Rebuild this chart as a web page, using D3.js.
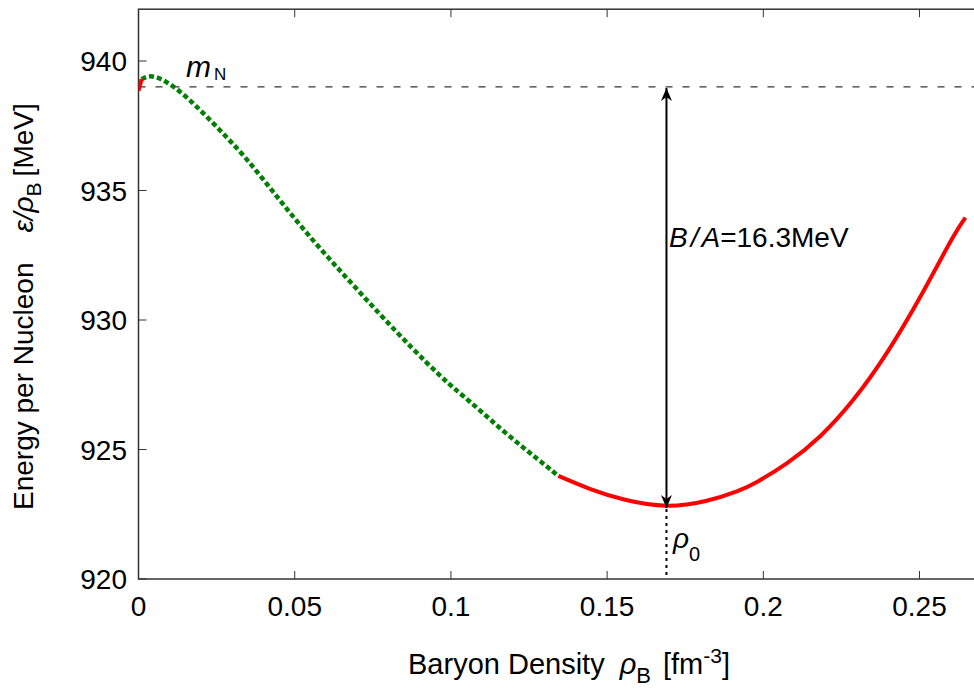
<!DOCTYPE html>
<html>
<head>
<meta charset="utf-8">
<script src="https://cdn.jsdelivr.net/npm/d3@7"></script>
<style>
  html, body { margin: 0; padding: 0; background: #fff; }
  svg { display: block; }
  text { font-family: "Liberation Sans", Arial, sans-serif; fill: #000; }
</style>
</head>
<body>
<svg id="chart" width="974" height="689"></svg>
<script>
// ---- data ----
const xTicks = [0, 0.05, 0.1, 0.15, 0.2, 0.25];
const xTickLabels = ["0", "0.05", "0.1", "0.15", "0.2", "0.25"];
const yTicks = [920, 925, 930, 935, 940];
const yTickLabels = ["920", "925", "930", "935", "940"];

// unstable low-density piece (red)
const rhoLow = [0, 0.001];
const eLow = [938.85, 939.3];
// spinodal region (green dotted)
const rhoMid = [0.001, 0.0046, 0.0131, 0.0238, 0.0345, 0.0452, 0.0559, 0.0666, 0.0772, 0.0879, 0.0965, 0.1018, 0.1071, 0.1178, 0.1285, 0.1344];
const eMid = [939.3, 939.52, 938.91, 937.62, 936.27, 934.62, 933.05, 931.63, 930.22, 928.87, 927.84, 927.28, 926.75, 925.59, 924.56, 923.98];
// stable branch (red)
const rhoHigh = [0.1344, 0.1446, 0.1552, 0.1691, 0.1819, 0.1926, 0.1969, 0.2076, 0.2183, 0.2289, 0.2396, 0.2503, 0.2610, 0.2647];
const eHigh = [923.98, 923.45, 923.04, 922.74, 922.98, 923.42, 923.66, 924.43, 925.46, 926.87, 928.68, 930.86, 933.31, 933.95];

const mN = 939.0;
const bindingEnergy = 16.3;
const rho0 = 0.169;
const xDomain = [0, 0.27];
const yDomain = [920, 942];

// ---- layout ----
const svg = d3.select("#chart");
const x = d3.scaleLinear().domain(xDomain).range([138.5, 982]);
const y = d3.scaleLinear().domain(yDomain).range([579, 9.2]);
const x0 = x.range()[0], x1 = x.range()[1], yb = y.range()[0], yt = y.range()[1];

const defs = svg.append("defs");
defs.append("clipPath").attr("id", "plotclip").append("rect")
  .attr("x", x0).attr("y", yt).attr("width", x1 - x0).attr("height", yb - yt);
defs.append("marker").attr("id", "ahead")
  .attr("viewBox", "-14 -7 16 14").attr("refX", 0).attr("refY", 0)
  .attr("markerWidth", 16).attr("markerHeight", 14).attr("markerUnits", "userSpaceOnUse")
  .attr("orient", "auto-start-reverse")
  .append("path").attr("d", "M0,0 L-13,-5.5 L-9,0 L-13,5.5 Z").attr("fill", "#000");

// frame
svg.append("rect").attr("x", x0).attr("y", yt).attr("width", x1 - x0).attr("height", yb - yt)
  .attr("fill", "none").attr("stroke", "#333").attr("stroke-width", 1.5);

// ticks (inward, mirrored)
const tlen = 8;
const tickG = svg.append("g").attr("stroke", "#333").attr("stroke-width", 1);
xTicks.forEach(t => {
  tickG.append("line").attr("x1", x(t)).attr("x2", x(t)).attr("y1", yb).attr("y2", yb - tlen);
  tickG.append("line").attr("x1", x(t)).attr("x2", x(t)).attr("y1", yt).attr("y2", yt + tlen);
});
yTicks.forEach(t => {
  tickG.append("line").attr("x1", x0).attr("x2", x0 + tlen).attr("y1", y(t)).attr("y2", y(t));
  tickG.append("line").attr("x1", x1).attr("x2", x1 - tlen).attr("y1", y(t)).attr("y2", y(t));
});

// tick labels
xTicks.forEach((t, i) => {
  svg.append("text").attr("x", x(t)).attr("y", 616).attr("text-anchor", "middle")
    .attr("font-size", 28).text(xTickLabels[i]);
});
yTicks.forEach((t, i) => {
  svg.append("text").attr("x", 127).attr("y", y(t) + 10).attr("text-anchor", "end")
    .attr("font-size", 28).text(yTickLabels[i]);
});

const plot = svg.append("g").attr("clip-path", "url(#plotclip)");

// m_N dashed line
plot.append("line").attr("x1", x0).attr("x2", x1).attr("y1", y(mN)).attr("y2", y(mN))
  .attr("stroke", "#000").attr("stroke-width", 1).attr("stroke-dasharray", "7,10");

// dotted line from minimum to axis
plot.append("line").attr("x1", x(rho0)).attr("x2", x(rho0))
  .attr("y1", y(mN - bindingEnergy)).attr("y2", yb)
  .attr("stroke", "#000").attr("stroke-width", 2).attr("stroke-dasharray", "3,4");

// curves
const line = d3.line().x(d => x(d[0])).y(d => y(d[1])).curve(d3.curveBasis);
const zip = (a, b) => a.map((v, i) => [v, b[i]]);
plot.append("path").datum(zip(rhoMid, eMid)).attr("d", line)
  .attr("fill", "none").attr("stroke", "#008000").attr("stroke-width", 4.5)
  .attr("stroke-dasharray", "5,3");
plot.append("path").datum(zip(rhoLow, eLow)).attr("d", line)
  .attr("fill", "none").attr("stroke", "#ff0000").attr("stroke-width", 4);
plot.append("path").datum(zip(rhoHigh, eHigh)).attr("d", line)
  .attr("fill", "none").attr("stroke", "#ff0000").attr("stroke-width", 4);

// double arrow
svg.append("line").attr("x1", x(rho0)).attr("x2", x(rho0))
  .attr("y1", y(mN - bindingEnergy) - 1).attr("y2", y(mN) + 1)
  .attr("stroke", "#000").attr("stroke-width", 2)
  .attr("marker-end", "url(#ahead)").attr("marker-start", "url(#ahead)");

// annotations
const mt = svg.append("text").attr("x", 186).attr("y", 77).attr("font-size", 30);
mt.append("tspan").attr("font-style", "italic").text("m");
mt.append("tspan").attr("font-size", 17).attr("dx", 3).attr("dy", 3).text("N");

const ba = svg.append("text").attr("x", 669).attr("y", 247).attr("font-size", 28);
ba.append("tspan").attr("font-style", "italic").text("B");
ba.append("tspan").attr("font-style", "italic").attr("dx", 3).text("/");
ba.append("tspan").attr("font-style", "italic").attr("dx", 3).text("A");
ba.append("tspan").text("=16.3MeV");

const rt = svg.append("text").attr("x", 673).attr("y", 548).attr("font-size", 28);
rt.append("tspan").attr("font-style", "italic").text("ρ");
rt.append("tspan").attr("font-size", 20).attr("dy", 13).text("0");

// axis titles
const xl = svg.append("text").attr("x", 408).attr("y", 674).attr("font-size", 29);
xl.append("tspan").text("Baryon Density");
xl.append("tspan").attr("dx", 15).attr("font-style", "italic").text("ρ");
xl.append("tspan").attr("font-size", 22).attr("dy", 9).text("B");
xl.append("tspan").attr("dy", -9).attr("dx", 12).text("[fm");
xl.append("tspan").attr("font-size", 21).attr("dy", -11).text("-3");
xl.append("tspan").attr("dy", 11).text("]");

const yl = svg.append("text").attr("transform", "translate(33,510) rotate(-90)")
  .attr("font-size", 28);
yl.append("tspan").text("Energy per Nucleon");
yl.append("tspan").attr("dx", 30).attr("font-style", "italic").text("ε/ρ");
yl.append("tspan").attr("font-size", 21).attr("dy", 8).text("B");
yl.append("tspan").attr("dy", -8).attr("dx", 6).text("[MeV]");
</script>
</body>
</html>
